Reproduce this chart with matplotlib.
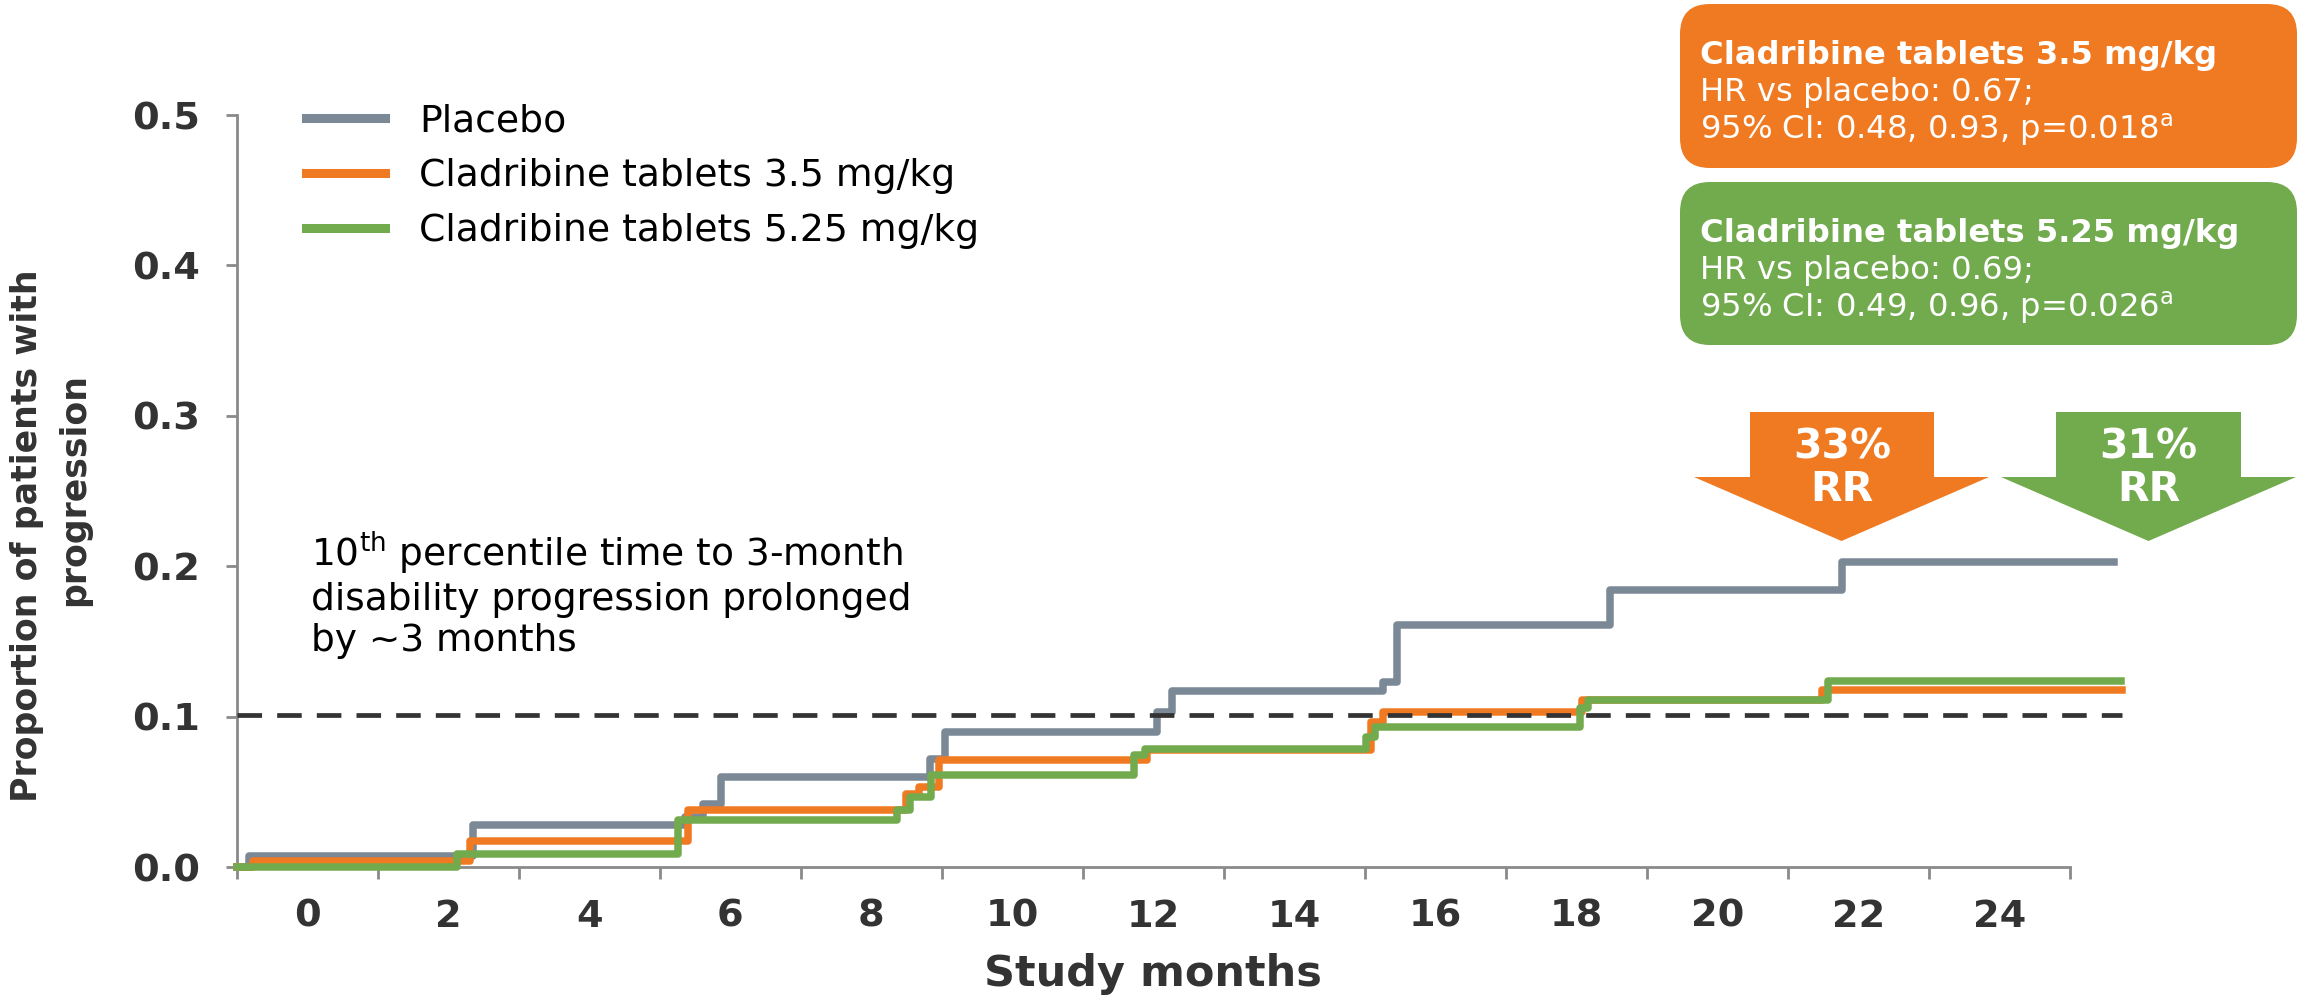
import matplotlib
matplotlib.use("Agg")
import matplotlib.pyplot as plt
from matplotlib.patches import FancyBboxPatch, Polygon

# Kaplan-Meier style cumulative progression, read as step points (months, proportion)
months_placebo = [-1.0, -0.82, 2.35, 5.36, 5.61, 5.87, 8.83, 9.04, 12.05, 12.26, 15.26, 15.45, 18.48, 21.77, 25.62]
prop_placebo = [0.0, 0.007, 0.028, 0.033, 0.042, 0.060, 0.072, 0.090, 0.103, 0.117, 0.123, 0.161, 0.184, 0.203, 0.203]

months_35 = [-1.0, -0.76, 2.31, 5.40, 8.50, 8.68, 8.96, 11.91, 15.09, 15.26, 18.08, 21.48, 25.74]
prop_35 = [0.0, 0.004, 0.017, 0.038, 0.0485, 0.053, 0.071, 0.078, 0.0965, 0.103, 0.111, 0.118, 0.118]

months_525 = [-1.0, 2.12, 5.26, 8.37, 8.55, 8.85, 11.73, 11.89, 15.02, 15.15, 18.05, 18.17, 21.57, 25.72]
prop_525 = [0.0, 0.0087, 0.031, 0.038, 0.0467, 0.061, 0.0745, 0.0785, 0.0864, 0.093, 0.106, 0.111, 0.124, 0.124]

series_names = ["Placebo", "Cladribine tablets 3.5 mg/kg", "Cladribine tablets 5.25 mg/kg"]
percentile_10 = 0.101

month_labels = list(range(0, 25, 2))
y_ticks = [0.0, 0.1, 0.2, 0.3, 0.4, 0.5]

hr_35 = ("Cladribine tablets 3.5 mg/kg", "HR vs placebo: 0.67;", "95% CI: 0.48, 0.93, p=0.018")
hr_525 = ("Cladribine tablets 5.25 mg/kg", "HR vs placebo: 0.69;", "95% CI: 0.49, 0.96, p=0.026")
rr_35 = "33%\nRR"
rr_525 = "31%\nRR"

GREY = "#7b8895"
ORANGE = "#f07a22"
GREEN = "#72aa4e"
DARK = "#333333"
AXIS = "#8a8a8a"

W, H = 2305, 998
fig = plt.figure(figsize=(W / 100, H / 100), dpi=100)
ax = fig.add_axes([236.5 / W, 131 / H, (2140.5 - 236.5) / W, (867 - 115) / H])

lw = 5.4
ax.step(months_placebo, prop_placebo, where="post", color=GREY, lw=lw, clip_on=False, zorder=3, label=series_names[0])
ax.step(months_35, prop_35, where="post", color=ORANGE, lw=lw, clip_on=False, zorder=4, label=series_names[1])
ax.step(months_525, prop_525, where="post", color=GREEN, lw=lw, clip_on=False, zorder=5, label=series_names[2])
ax.hlines(percentile_10, -1, max(months_35), colors=DARK, lw=3.4, linestyles=(0, (5.2, 3.2)), zorder=6)

ax.set_xlim(-1, 26)
ax.set_ylim(0, 0.5)
for s in ("top", "right"):
    ax.spines[s].set_visible(False)
for s in ("left", "bottom"):
    ax.spines[s].set_color(AXIS)
    ax.spines[s].set_linewidth(2)
ax.spines["bottom"].set_bounds(-1, 25)

# ticks on odd months, labels centred between them
ax.set_xticks(range(-1, 26, 2))
ax.set_xticklabels([])
ax.set_xticks(month_labels, minor=True)
ax.set_xticklabels([str(m) for m in month_labels], minor=True)
ax.tick_params(axis="x", which="major", length=8.5, width=2, color=AXIS, direction="out")
ax.tick_params(axis="x", which="minor", length=0, pad=23, labelsize=27.5, labelcolor=DARK)
ax.set_yticks(y_ticks)
ax.set_yticklabels([f"{v:.1f}" for v in y_ticks])
ax.tick_params(axis="y", length=8, width=2, color=AXIS, pad=18, labelsize=27.5, labelcolor=DARK)
for lab in ax.get_xticklabels(minor=True) + ax.get_yticklabels():
    lab.set_fontweight("bold")

fig.text(1153 / W, 1 - 974 / H, "Study months", ha="center", va="center",
         fontsize=31, fontweight="bold", color=DARK)
fig.text(27 / W, 1 - 536 / H, "Proportion of patients with", rotation=90,
         ha="center", va="center", fontsize=25, fontweight="bold", color=DARK)
fig.text(74 / W, 1 - 490 / H, "progression", rotation=90,
         ha="center", va="center", fontsize=25, fontweight="bold", color=DARK)

leg = ax.legend(loc="upper left", bbox_to_anchor=(306 / W, 1 - 103 / H), bbox_transform=fig.transFigure,
                frameon=False, fontsize=27.2, handlelength=2.1, handletextpad=0.9,
                labelspacing=0.5, borderpad=0, borderaxespad=0)
for line in leg.get_lines():
    line.set_linewidth(6.5)
for t in leg.get_texts():
    t.set_color("black")

ax.text(311 / W, 1 - 530 / H,
        "10$^{\\rm th}$ percentile time to 3-month\ndisability progression prolonged\nby ~3 months",
        transform=fig.transFigure, ha="left", va="top", fontsize=27, linespacing=1.17, color="black")

# overlay in pixel coordinates for the callouts
ov = fig.add_axes([0, 0, 1, 1], facecolor="none", zorder=10)
ov.set_xlim(0, W)
ov.set_ylim(H, 0)
ov.axis("off")


def hr_box(top, bottom, color, lines):
    ov.add_patch(FancyBboxPatch((1680 + 30, top + 30), 617 - 60, bottom - top - 60,
                                boxstyle="round,pad=30", fc=color, ec="none"))
    ov.text(1700, top + 60, lines[0], fontsize=23.2, fontweight="bold", color="white", va="baseline")
    ov.text(1700, top + 97, lines[1], fontsize=23.2, color="white", va="baseline")
    ov.text(1700, top + 135, lines[2] + "$^{\\rm a}$", fontsize=23.2, color="white", va="baseline")


hr_box(4, 168, ORANGE, hr_35)
hr_box(182, 345, GREEN, hr_525)


def down_arrow(x0, x1, hx0, hx1, color, label):
    tip = (hx0 + hx1) / 2
    pts = [(x0, 412), (x1, 412), (x1, 477), (hx1, 477), (tip, 541), (hx0, 477), (x0, 477)]
    ov.add_patch(Polygon(pts, closed=True, fc=color, ec="none"))
    ov.text((x0 + x1) / 2, 469, label, ha="center", va="center", fontsize=29.5, fontweight="bold",
            color="white", linespacing=1.08)


down_arrow(1750, 1934, 1694, 1989, ORANGE, rr_35)
down_arrow(2056, 2241, 2001, 2296, GREEN, rr_525)

fig.savefig("out.png", dpi=100)
